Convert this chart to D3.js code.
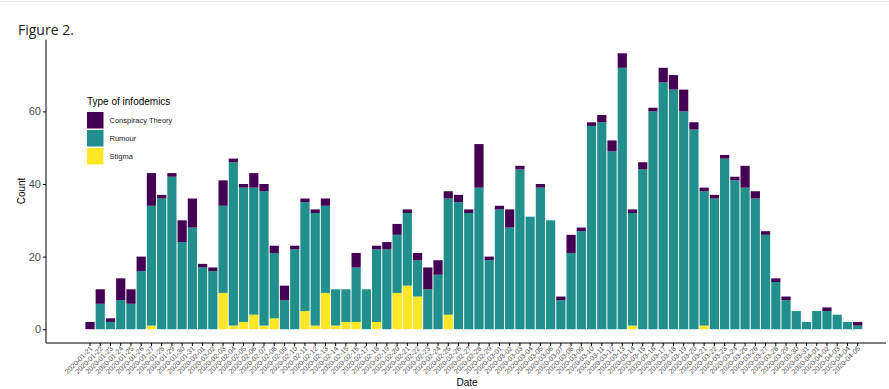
<!DOCTYPE html>
<html>
<head>
<meta charset="utf-8">
<script src="https://cdn.jsdelivr.net/npm/d3@7"></script>
<style>
    body { margin: 0; background: #fff; }
    svg { display: block; font-family: 'Liberation Sans', Arial, sans-serif; }
    .tick text { fill: #4d4d4d; }
</style>
</head>
<body>
<svg id="chart" width="889" height="389"></svg>
<script>

var dates = [
    '2020-01-21', '2020-01-22', '2020-01-23', '2020-01-24', '2020-01-25', '2020-01-26',
    '2020-01-27', '2020-01-28', '2020-01-29', '2020-01-30', '2020-01-31', '2020-02-01',
    '2020-02-02', '2020-02-03', '2020-02-04', '2020-02-05', '2020-02-06', '2020-02-07',
    '2020-02-08', '2020-02-09', '2020-02-10', '2020-02-11', '2020-02-12', '2020-02-13',
    '2020-02-14', '2020-02-15', '2020-02-16', '2020-02-17', '2020-02-18', '2020-02-19',
    '2020-02-20', '2020-02-21', '2020-02-22', '2020-02-23', '2020-02-24', '2020-02-25',
    '2020-02-26', '2020-02-27', '2020-02-28', '2020-02-29', '2020-03-01', '2020-03-02',
    '2020-03-03', '2020-03-04', '2020-03-05', '2020-03-06', '2020-03-07', '2020-03-08',
    '2020-03-09', '2020-03-10', '2020-03-11', '2020-03-12', '2020-03-13', '2020-03-14',
    '2020-03-15', '2020-03-16', '2020-03-17', '2020-03-18', '2020-03-19', '2020-03-20',
    '2020-03-21', '2020-03-22', '2020-03-23', '2020-03-24', '2020-03-25', '2020-03-26',
    '2020-03-27', '2020-03-28', '2020-03-29', '2020-03-30', '2020-03-31', '2020-04-01',
    '2020-04-02', '2020-04-03', '2020-04-04', '2020-04-05'
];

var stigma = [
    0, 0, 0, 0, 0, 0, 1, 0, 0, 0, 0, 0, 0, 10, 1, 2, 4, 1, 3, 0,
    0, 5, 1, 10, 1, 2, 2, 0, 2, 0, 10, 12, 9, 0, 0, 4, 0, 0, 0, 0,
    0, 0, 0, 0, 0, 0, 0, 0, 0, 0, 0, 0, 0, 1, 0, 0, 0, 0, 0, 0,
    1, 0, 0, 0, 0, 0, 0, 0, 0, 0, 0, 0, 0, 0, 0, 0
];

var rumour = [
    0, 7, 2, 8, 7, 16, 33, 36, 42, 24, 28, 17, 16, 24, 45, 37, 35, 37, 18, 8,
    22, 30, 31, 24, 10, 9, 15, 11, 20, 22, 16, 20, 10, 11, 15, 32, 35, 32, 39, 19,
    33, 28, 44, 31, 39, 30, 8, 21, 27, 56, 57, 49, 72, 31, 44, 60, 68, 66, 60, 55,
    37, 36, 47, 41, 39, 36, 26, 13, 8, 5, 2, 5, 5, 4, 2, 1
];

var conspiracy = [
    2, 4, 1, 6, 4, 4, 9, 1, 1, 6, 8, 1, 1, 7, 1, 1, 4, 2, 2, 4,
    1, 1, 1, 2, 0, 0, 4, 0, 1, 2, 3, 1, 2, 6, 4, 2, 2, 1, 12, 1,
    1, 5, 1, 0, 1, 0, 1, 5, 1, 1, 2, 3, 4, 1, 2, 1, 4, 4, 6, 2,
    1, 1, 1, 1, 6, 2, 1, 1, 1, 0, 0, 0, 1, 0, 0, 1
];

var yTicks = [0, 20, 40, 60];

var legendLabels = ['Conspiracy Theory', 'Rumour', 'Stigma'];
var legendKeys = ['conspiracy', 'rumour', 'stigma'];


Fig = {};

Fig.init = function() {
    this.svg = d3.select('#chart');
    this.color = d3.scaleOrdinal()
        .domain(['stigma', 'rumour', 'conspiracy'])
        .range(['#FDE725', '#21908C', '#440154']);

    this.rows = dates.map(function(d, i) {
        return {date: d, stigma: stigma[i], rumour: rumour[i], conspiracy: conspiracy[i]};
    });

    this.x = d3.scaleBand()
        .domain(dates)
        .range([84.9, 862.8])
        .paddingInner(0.1)
        .paddingOuter(0.05);

    this.y = d3.scaleLinear()
        .domain([-3.8, 79.8])
        .range([343, 39.5]);

    this.drawFrame();
    this.drawBars();
    this.drawAxes();
    this.drawLegend();
};


Fig.drawFrame = function() {
    var svg = this.svg;
    // faint page edge at the very top
    svg.append('line')
        .attr('x1', 0).attr('x2', 889)
        .attr('y1', 1.5).attr('y2', 1.5)
        .attr('stroke', '#ececec');

    svg.append('text')
        .attr('x', 18)
        .attr('y', 35)
        .style('font-family', "'Open Sans', 'Noto Sans', sans-serif")
        .style('font-size', '14px')
        .attr('fill', '#222')
        .text('Figure 2.');
};


Fig.drawBars = function() {
    var self = this;
    var series = d3.stack()
        .keys(['stigma', 'rumour', 'conspiracy'])(self.rows);

    self.svg.append('g')
        .selectAll('g')
        .data(series)
        .join('g')
        .attr('fill', function(s) { return self.color(s.key); })
        .selectAll('rect')
        .data(function(s) { return s; })
        .join('rect')
        .attr('x', function(d) { return self.x(d.data.date); })
        .attr('width', self.x.bandwidth())
        .attr('y', function(d) { return self.y(d[1]); })
        .attr('height', function(d) { return self.y(d[0]) - self.y(d[1]); });
};


Fig.drawAxes = function() {
    var self = this;
    var svg = self.svg;

    var gy = svg.append('g')
        .attr('transform', 'translate(46,0)')
        .call(d3.axisLeft(self.y).tickValues(yTicks).tickSize(3).tickPadding(2));
    gy.select('.domain').attr('d', 'M0,39.5V343');
    gy.selectAll('.tick text').style('font-size', '11px');

    var gx = svg.append('g')
        .attr('transform', 'translate(0,343)')
        .call(d3.axisBottom(self.x).tickSize(3).tickSizeOuter(0));
    gx.select('.domain').attr('d', 'M46,0H886');
    gx.selectAll('.tick text')
        .style('font-size', '7px')
        .attr('text-anchor', 'end')
        .attr('dy', null)
        .attr('transform', 'translate(3,6) rotate(-45)')
        .attr('y', 0)
        .attr('x', 0);

    svg.append('text')
        .attr('transform', 'translate(25,191) rotate(-90)')
        .attr('text-anchor', 'middle')
        .style('font-size', '10px')
        .text('Count');

    svg.append('text')
        .attr('x', 467)
        .attr('y', 386)
        .attr('text-anchor', 'middle')
        .style('font-size', '10px')
        .text('Date');
};


Fig.drawLegend = function() {
    var self = this;
    var g = self.svg.append('g').attr('transform', 'translate(87,0)');

    g.append('text')
        .attr('x', 0)
        .attr('y', 105)
        .style('font-size', '10px')
        .text('Type of infodemics');

    legendKeys.forEach(function(key, i) {
        var top = 112 + i * 18;
        g.append('rect')
            .attr('x', 0)
            .attr('y', top)
            .attr('width', 16.5)
            .attr('height', 16.5)
            .attr('fill', self.color(key));
        g.append('text')
            .attr('x', 22.5)
            .attr('y', top + 8.5)
            .attr('dy', '0.35em')
            .style('font-size', '7.5px')
            .attr('fill', '#222')
            .text(legendLabels[i]);
    });
};


Fig.init();

</script>
</body>
</html>
